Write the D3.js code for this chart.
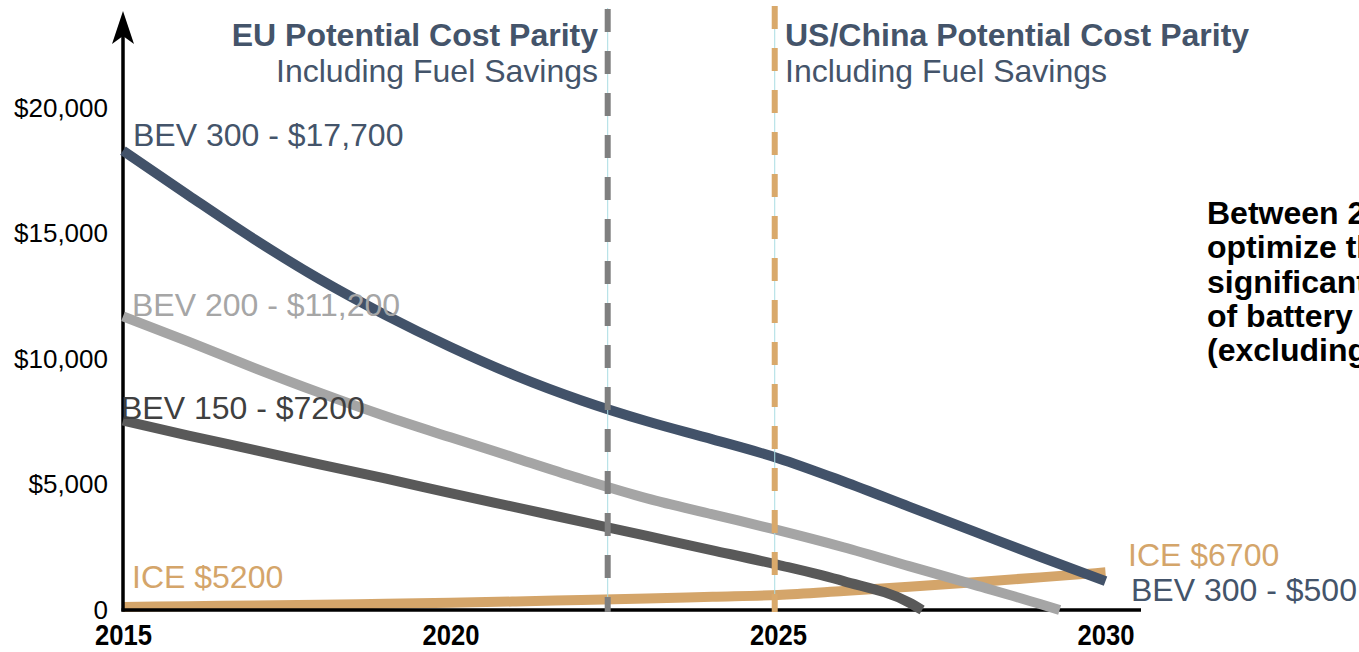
<!DOCTYPE html>
<html>
<head>
<meta charset="utf-8">
<script src="https://cdn.jsdelivr.net/npm/d3@7"></script>
<style>
  body { margin: 0; background: #fff; }
  svg { display: block; font-family: "Liberation Sans", Arial, Helvetica, sans-serif; }
</style>
</head>
<body>
<div id="chart"></div>
<script>
// years on the x axis
const years = [2015, 2016, 2017, 2018, 2019, 2020, 2021, 2022, 2023, 2024, 2025, 2026, 2027, 2028, 2029, 2030];

// incremental cost per vehicle
const bev300 = [18300, 16520, 14780, 13180, 11760, 10480, 9330, 8350, 7520, 6800, 6050, 5120, 4120, 3120, 2120, 1150];
const bev200 = [11700, 10690, 9650, 8660, 7730, 6880, 6050, 5220, 4450, 3810, 3180, 2500, 1750, 1000, 240];
const bev150 = [7550, 6950, 6380, 5800, 5240, 4660, 4090, 3520, 2950, 2380, 1800, 1150, 300];
const ice = [120, 150, 180, 210, 250, 290, 340, 400, 460, 530, 600, 760, 930, 1110, 1300, 1500];

// where the short lines hit zero
const bev200End = [2029.3, 0];
const bev150End = [2027.2, 0];

const xTicks = [2015, 2020, 2025, 2030];
const yTicks = [0, 5000, 10000, 15000, 20000];

// parity markers
const parityYears = [2022.4, 2024.95];

const noteLines = ["Between 2025", "optimize the", "significantly", "of battery", "(excluding"];

const width = 1359;
const height = 652;

const svg = d3.select("#chart")
  .append("svg")
  .attr("width", width)
  .attr("height", height);

const x = d3.scaleLinear().domain([2015, 2030]).range([123, 1105.5]);
const y = d3.scaleLinear().domain([0, 20000]).range([610, 108]);

const line = d3.line()
  .x(d => x(d[0]))
  .y(d => y(d[1]))
  .curve(d3.curveMonotoneX);

const pairs = (vals) => vals.map((v, i) => [years[i], v]);

const slate = "#44546a";
const tan = "#d4a56a";
const font = "'Liberation Sans', Arial, sans-serif";

// ICE line sits under the axis
svg.append("path")
  .datum(pairs(ice))
  .attr("d", line)
  .attr("fill", "none")
  .attr("stroke", tan)
  .attr("stroke-width", 10);

// y axis labels
const yAxis = d3.axisLeft(y)
  .tickValues(yTicks)
  .tickSize(0)
  .tickPadding(15)
  .tickFormat(d => d === 0 ? "0" : "$" + d3.format(",")(d));

const gy = svg.append("g")
  .attr("transform", `translate(${x(2015)},0)`)
  .call(yAxis);
gy.select(".domain").remove();
gy.selectAll("text")
  .style("font-size", "26px")
  .style("font-family", font)
  .attr("fill", "#000");

// x axis labels (condensed bold)
const xAxis = d3.axisBottom(x)
  .tickValues(xTicks)
  .tickSize(0)
  .tickPadding(14)
  .tickFormat(d3.format("d"));

const gx = svg.append("g")
  .attr("transform", `translate(0,${y(0)})`)
  .call(xAxis);
gx.select(".domain").remove();
gx.selectAll("text")
  .style("font-size", "29px")
  .style("font-weight", "bold")
  .style("font-family", font)
  .attr("textLength", 57)
  .attr("lengthAdjust", "spacingAndGlyphs")
  .attr("fill", "#000");

// axis lines
svg.append("line")
  .attr("x1", x(2015) - 1.5).attr("x2", 1141)
  .attr("y1", y(0)).attr("y2", y(0))
  .attr("stroke", "#000").attr("stroke-width", 3.5);

svg.append("line")
  .attr("x1", x(2015)).attr("x2", x(2015))
  .attr("y1", y(0) + 1.5).attr("y2", 30)
  .attr("stroke", "#000").attr("stroke-width", 3.5);

// arrow head on the y axis
const ax = x(2015);
svg.append("path")
  .attr("d", `M${ax},11 L${ax + 11},44 L${ax},36 L${ax - 11},44 Z`)
  .attr("fill", "#000");

// BEV lines
svg.append("path")
  .datum(pairs(bev200).concat([bev200End]))
  .attr("d", line)
  .attr("fill", "none")
  .attr("stroke", "#a5a5a5")
  .attr("stroke-width", 10);

svg.append("path")
  .datum(pairs(bev150).concat([bev150End]))
  .attr("d", line)
  .attr("fill", "none")
  .attr("stroke", "#595959")
  .attr("stroke-width", 10);

svg.append("path")
  .datum(pairs(bev300))
  .attr("d", line)
  .attr("fill", "none")
  .attr("stroke", "#425269")
  .attr("stroke-width", 10);

// parity markers: thin guide plus heavy dashes
const markerColors = ["#7f7f7f", "#d9a96b"];
parityYears.forEach((yr, i) => {
  svg.append("line")
    .attr("x1", x(yr)).attr("x2", x(yr))
    .attr("y1", 8).attr("y2", y(0))
    .attr("stroke", "#a9dde3").attr("stroke-width", 1);
  svg.append("line")
    .attr("x1", x(yr)).attr("x2", x(yr))
    .attr("y1", i === 0 ? 9 : 6).attr("y2", y(0) + 2)
    .attr("stroke", markerColors[i])
    .attr("stroke-width", 6)
    .attr("stroke-dasharray", "23,19");
});

// headers
svg.append("text")
  .attr("x", 598).attr("y", 46)
  .attr("text-anchor", "end")
  .attr("fill", slate)
  .style("font-size", "32px").style("font-weight", "bold").style("font-family", font)
  .text("EU Potential Cost Parity");
svg.append("text")
  .attr("x", 598).attr("y", 82)
  .attr("text-anchor", "end")
  .attr("fill", slate)
  .style("font-size", "32px").style("font-family", font)
  .text("Including Fuel Savings");
svg.append("text")
  .attr("x", 785).attr("y", 46)
  .attr("fill", slate)
  .style("font-size", "32px").style("font-weight", "bold").style("font-family", font)
  .text("US/China Potential Cost Parity");
svg.append("text")
  .attr("x", 785).attr("y", 82)
  .attr("fill", slate)
  .style("font-size", "32px").style("font-family", font)
  .text("Including Fuel Savings");

// series labels
const labels = [
  { text: "BEV 300 - $17,700", x: 133, y: 146, color: slate },
  { text: "BEV 200 - $11,200", x: 132, y: 316, color: "#a6a6a6" },
  { text: "BEV 150 - $7200", x: 121, y: 419, color: "#3f3f3f" },
  { text: "ICE $5200", x: 132, y: 588, color: tan },
  { text: "ICE $6700", x: 1128, y: 566, color: tan },
  { text: "BEV 300 - $500", x: 1131, y: 601, color: slate }
];
svg.selectAll(".series-label")
  .data(labels)
  .enter()
  .append("text")
  .attr("class", "series-label")
  .attr("x", d => d.x)
  .attr("y", d => d.y)
  .attr("fill", d => d.color)
  .style("font-size", "32px")
  .style("font-family", font)
  .text(d => d.text);

// side note, cut off by the right edge
svg.selectAll(".note")
  .data(noteLines)
  .enter()
  .append("text")
  .attr("class", "note")
  .attr("x", 1207)
  .attr("y", (d, i) => 224 + i * 34.3)
  .attr("fill", "#000")
  .style("font-size", "32px")
  .style("font-weight", "bold")
  .style("font-family", font)
  .text(d => d);
</script>
</body>
</html>
